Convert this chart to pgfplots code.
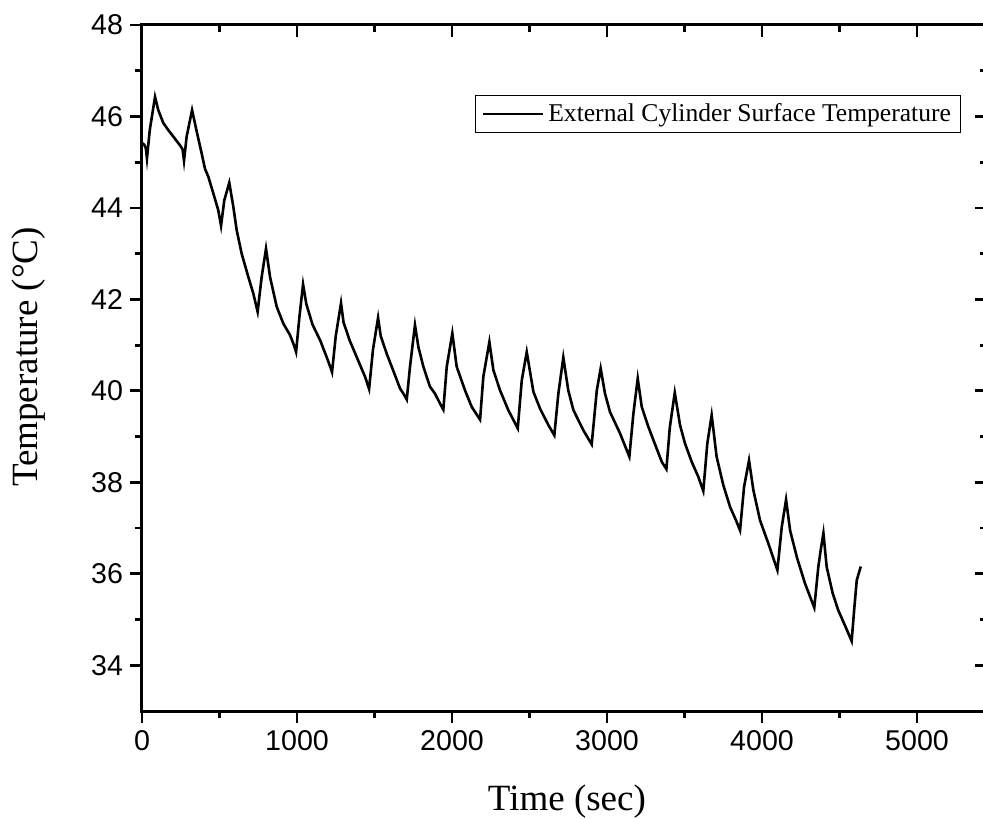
\documentclass[border=0pt]{standalone}
\usepackage{pgfplots}
\pgfplotsset{compat=1.18}
\usepackage{pgfplotstable}
\usepackage{fontspec}
\setmainfont{Liberation Serif}
\newfontfamily\ticksans{Liberation Sans}

\pgfplotstableread{
t T
0 45.42
15 45.38
25 45.30
32 45.08
50 45.70
84 46.43
105 46.14
137 45.86
170 45.70
202 45.56
245 45.37
262 45.28
271 45.03
288 45.56
323 46.14
353 45.67
385 45.19
406 44.86
428 44.68
460 44.32
492 43.95
510 43.61
531 44.17
563 44.55
589 44.03
611 43.51
643 43.00
686 42.49
718 42.13
746 41.73
772 42.49
800 43.11
826 42.49
869 41.84
912 41.47
955 41.22
980 41.00
994 40.85
1015 41.60
1039 42.33
1060 41.90
1100 41.45
1150 41.10
1190 40.75
1215 40.52
1226 40.41
1250 41.20
1284 41.92
1300 41.50
1340 41.10
1390 40.70
1440 40.30
1465 40.04
1490 40.90
1523 41.60
1540 41.20
1580 40.80
1620 40.45
1665 40.05
1690 39.92
1708 39.81
1729 40.53
1761 41.44
1783 40.96
1815 40.53
1858 40.09
1890 39.94
1923 39.72
1944 39.59
1966 40.53
2002 41.26
2030 40.53
2084 40.01
2127 39.65
2181 39.37
2202 40.31
2241 41.07
2267 40.45
2310 40.01
2363 39.58
2424 39.18
2450 40.23
2482 40.85
2525 39.98
2568 39.61
2622 39.25
2660 39.03
2686 39.94
2718 40.73
2750 40.01
2783 39.58
2847 39.14
2901 38.83
2934 40.01
2959 40.49
2987 39.94
3019 39.54
3084 39.07
3144 38.56
3170 39.50
3198 40.27
3224 39.65
3267 39.21
3320 38.74
3353 38.45
3383 38.29
3405 39.20
3437 39.96
3471 39.25
3503 38.85
3546 38.45
3589 38.12
3621 37.81
3647 38.85
3675 39.47
3707 38.56
3750 37.94
3794 37.46
3832 37.17
3858 36.95
3884 37.90
3916 38.48
3944 37.83
3987 37.17
4041 36.66
4099 36.08
4127 37.02
4155 37.62
4181 36.95
4224 36.37
4277 35.79
4337 35.26
4363 36.15
4378 36.51
4396 36.89
4417 36.15
4456 35.57
4492 35.20
4535 34.87
4578 34.53
4594 35.20
4611 35.86
4637 36.16
}\datatable

\begin{document}
\begin{tikzpicture}
\pgfplotsset{common/.style={
  scale only axis, width=422.4pt, height=343pt,
  xmin=0, xmax=5450, ymin=33, ymax=48,
  xtick={0,1000,...,5000}, ytick={34,36,...,48},
  minor x tick num=1, minor y tick num=1,
  axis line style={line width=1.5pt},
  every tick/.style={line width=1.4pt, black},
  major tick length=6pt, minor tick length=3.5pt,
}}
\begin{axis}[common, tick align=inside, tick pos=right,
  xticklabels={}, yticklabels={}]
\end{axis}
\begin{axis}[common, tick align=outside, tick pos=left,
  /pgf/number format/assume math mode=true,
  /pgf/number format/1000 sep={},
  ticklabel style={font=\ticksans\fontsize{14.3}{14.3}\selectfont},
  xlabel={Time (sec)},
  ylabel={Temperature (°C)},
  label style={font=\fontsize{18.5}{20}\selectfont},
  xlabel style={at={([yshift=-49.5pt]axis description cs:0.503,0)}, anchor=base},
  ylabel style={at={([xshift=-52pt]axis description cs:0,0.516)}, anchor=base},
  legend style={at={(0.970,0.898)}, anchor=north east, draw=black, line width=0.5pt,
    font=\fontsize{12.8}{14}\selectfont, inner xsep=3pt, inner ysep=2pt},
  legend cell align=left,
  legend image code/.code={\draw[#1] (0pt,0pt) -- (30pt,0pt);},
]
\addplot[black, line width=1.3pt] table {\datatable};
\addlegendentry{External Cylinder Surface Temperature}
\end{axis}
\pgfresetboundingbox
\path[use as bounding box] ([shift={(-71pt,-53.5pt)}]current axis.south west) rectangle ([shift={(420.5pt,355.5pt)}]current axis.south west);
\end{tikzpicture}
\end{document}
